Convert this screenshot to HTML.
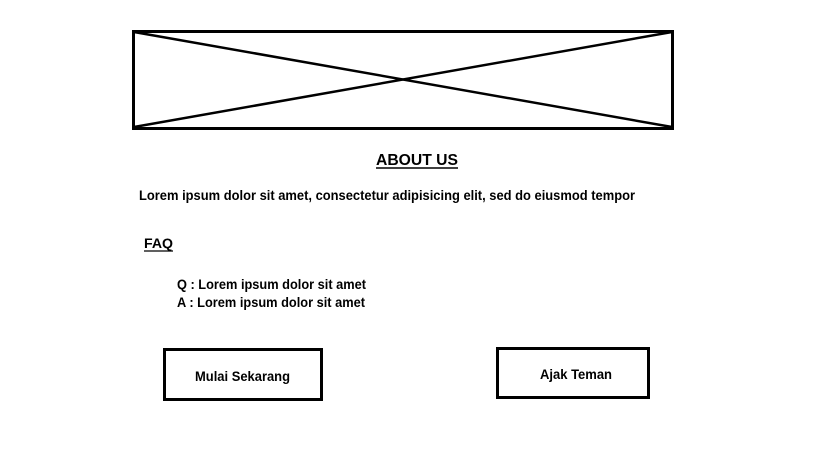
<!DOCTYPE html>
<html><head><style>body{margin:0;background:#fff}svg{display:block}text{font-family:"Liberation Sans",sans-serif;font-weight:bold;fill:#000}</style></head>
<body>
<svg width="819" height="460" viewBox="0 0 819 460" xmlns="http://www.w3.org/2000/svg">
<rect x="133.5" y="31.5" width="539" height="97" fill="none" stroke="#000" stroke-width="3"/>
<line x1="134" y1="32" x2="672" y2="127" stroke="#000" stroke-width="2.5"/>
<line x1="134" y1="127" x2="672" y2="32" stroke="#000" stroke-width="2.5"/>
<text x="376" y="165" font-size="16" textLength="82" lengthAdjust="spacingAndGlyphs">ABOUT US</text>
<line x1="376" y1="168" x2="458" y2="168" stroke="#000" stroke-width="1.5"/>
<text x="139" y="200" font-size="14" textLength="496" lengthAdjust="spacingAndGlyphs">Lorem ipsum dolor sit amet, consectetur adipisicing elit, sed do eiusmod tempor</text>
<text x="144" y="248" font-size="14" textLength="29" lengthAdjust="spacingAndGlyphs">FAQ</text>
<line x1="144" y1="251" x2="173" y2="251" stroke="#000" stroke-width="1.3"/>
<text x="177" y="289" font-size="14" textLength="189" lengthAdjust="spacingAndGlyphs">Q : Lorem ipsum dolor sit amet</text>
<text x="177" y="307" font-size="14" textLength="188" lengthAdjust="spacingAndGlyphs">A : Lorem ipsum dolor sit amet</text>
<rect x="164.5" y="349.5" width="157" height="50" fill="none" stroke="#000" stroke-width="3"/>
<text x="195" y="381" font-size="14" textLength="95" lengthAdjust="spacingAndGlyphs">Mulai Sekarang</text>
<rect x="497.5" y="348.5" width="151" height="49" fill="none" stroke="#000" stroke-width="3"/>
<text x="540" y="379" font-size="14" textLength="72" lengthAdjust="spacingAndGlyphs">Ajak Teman</text>
</svg>
</body></html>
